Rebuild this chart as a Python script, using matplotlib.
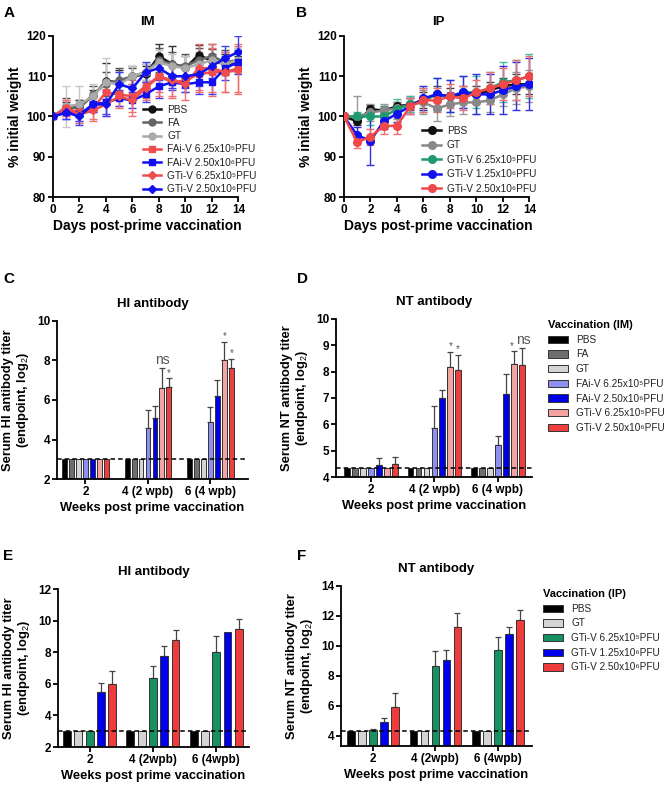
import matplotlib
matplotlib.use("Agg")
import matplotlib.pyplot as plt
from matplotlib.patches import Patch
from matplotlib.lines import Line2D
import numpy as np

plt.rcParams['font.family'] = ['Liberation Sans', 'DejaVu Sans']
plt.rcParams['mathtext.fontset'] = 'custom'
plt.rcParams['mathtext.rm'] = 'Liberation Sans'
plt.rcParams['mathtext.it'] = 'Liberation Sans:italic'
plt.rcParams['mathtext.bf'] = 'Liberation Sans:bold'

# ---------------- data: weight curves ----------------
days = list(range(15))

im_labels = ["PBS", "FA", "GT", "FAi-V 6.25x10\u2075PFU", "FAi-V 2.50x10\u2076PFU",
             "GTi-V 6.25x10\u2075PFU", "GTi-V 2.50x10\u2076PFU"]
im_pbs = [100, 102, 102.5, 105, 108.8, 108.5, 110, 110.5, 115, 113, 112, 115.3, 113.8, 113, 113]
im_fa = [100, 102.5, 102, 105.5, 108, 109, 110, 111, 114, 113, 112.5, 114, 115, 113.5, 114]
im_gt = [100, 102.5, 103, 105, 108.5, 108, 110, 111, 113.5, 112.5, 112, 113, 114, 113, 114]
im_fai625 = [100, 102, 101, 102, 106, 105.5, 105, 107.5, 110, 108.5, 109, 110.5, 111, 111, 112]
im_fai250 = [100, 101, 100.5, 103, 103.5, 104.5, 104, 105.5, 107.5, 108.5, 108, 108.5, 108.5, 112, 113.5]
im_gti625 = [100, 102, 100.5, 101.5, 103, 105, 104, 107, 110, 109, 108, 112, 112, 111, 111.5]
im_gti250 = [100, 101, 100, 103, 103, 108, 107, 111, 112, 110, 110, 110.5, 112.5, 114.5, 116]
im_err_pbs = [0, 1.5, 1.5, 1.5, 4.5, 3, 2.5, 2, 3, 4.5, 3, 2.5, 3, 2.5, 2]
im_err_fa = [0, 2, 2, 2, 3, 3, 2, 2, 3, 3, 3, 3, 3, 3, 3]
im_err_gt = [0, 5, 4.5, 3, 6, 3, 2.5, 2, 3, 3, 3, 3, 3, 3, 3]
im_err_fai625 = [0, 2, 2, 3, 3, 3, 4, 3, 4, 4, 3, 4, 6, 5, 6]
im_err_fai250 = [0, 1.5, 1.5, 2, 3, 2, 2, 2, 3, 2, 2, 3, 3, 3, 3]
im_err_gti625 = [0, 2, 2, 2, 3, 3, 4, 3, 5, 4, 4, 6, 6, 5, 6]
im_err_gti250 = [0, 1.5, 2, 2, 3, 3, 3, 2.5, 3, 3, 3, 3, 3, 3, 4]

ip_labels = ["PBS", "GT", "GTi-V 6.25x10\u2075PFU", "GTi-V 1.25x10\u2076PFU", "GTi-V 2.50x10\u2076PFU"]
ip_pbs = [100, 98.8, 101.8, 101.5, 102.5, 103, 104, 105.5, 105, 105.5, 105.5, 106.5, 107.5, 108, 108]
ip_gt = [100, 100, 101, 101.5, 102, 103, 103.5, 102, 103, 103.5, 103.5, 104, 105.5, 107, 107.5]
ip_gti625 = [100, 100, 100, 100, 101.8, 103, 104, 105.5, 105, 106, 106, 107, 108.5, 109, 110]
ip_gti125 = [100, 95.3, 94, 98.8, 100.7, 102.5, 104.5, 105.5, 105, 106, 105.5, 105.5, 106.5, 107.5, 108]
ip_gti250 = [100, 93.6, 95, 97.6, 97.7, 102.5, 104, 104, 105, 104.5, 106, 107, 108, 109, 110]
ip_err_pbs = [0, 1, 1, 1, 1, 1.5, 2, 2, 2, 2, 2, 2, 2, 2.5, 2.5]
ip_err_gt = [0, 5, 2, 1.5, 1.5, 2, 3, 3, 3, 3, 3, 3, 3, 4, 4]
ip_err_gti625 = [0, 1, 2, 2.5, 2.5, 2, 3, 4, 4, 4, 4, 4, 5, 5, 5.5]
ip_err_gti125 = [0, 2, 6, 2, 2, 2, 3, 4, 4, 4, 5, 5, 6, 6, 6.5]
ip_err_gti250 = [0, 1.5, 2, 2, 2, 2, 3, 3, 3, 3, 3, 4, 4, 5, 5]

# ---------------- data: antibody bars ----------------
im_groups = ["2", "4 (2 wpb)", "6 (4 wpb)"]
ip_groups = ["2", "4 (2wpb)", "6 (4wpb)"]

hi_im = [[3, 3, 3], [3, 3, 3], [3, 3, 3], [3.0, 4.6, 4.9], [3.0, 5.1, 6.2], [3.0, 6.6, 8.0], [3.0, 6.65, 7.6]]
hi_im_err = [[0, 0, 0], [0, 0, 0], [0, 0, 0], [0, 0.9, 0.75], [0, 0.6, 0.8], [0, 1.0, 0.95], [0, 0.45, 0.5]]
nt_im = [[4.33, 4.33, 4.33], [4.33, 4.33, 4.33], [4.33, 4.33, 4.33], [4.33, 5.86, 5.23],
         [4.47, 7.0, 7.16], [4.33, 8.18, 8.29], [4.5, 8.08, 8.25]]
nt_im_err = [[0, 0, 0], [0, 0, 0], [0, 0, 0], [0, 0.85, 0.32], [0.27, 0.3, 0.76], [0, 0.57, 0.48], [0.27, 0.55, 0.65]]

ip_bar_labels = ["PBS", "GT", "GTi-V 6.25x10\u2075PFU", "GTi-V 1.25x10\u2076PFU", "GTi-V 2.50x10\u2076PFU"]
hi_ip = [[3, 3, 3], [3, 3, 3], [3.0, 6.37, 8.0], [5.5, 7.76, 9.29], [6.0, 8.79, 9.5]]
hi_ip_err = [[0, 0, 0], [0, 0, 0], [0, 0.75, 1.05], [0.55, 0.66, 0], [0.78, 0.62, 0.6]]
nt_ip = [[4.33, 4.33, 4.33], [4.33, 4.33, 4.33], [4.35, 8.62, 9.73], [4.9, 9.04, 10.8], [5.93, 11.29, 11.73]]
nt_ip_err = [[0, 0, 0], [0, 0, 0], [0.07, 1.0, 0.85], [0.28, 0.69, 0.44], [0.91, 0.91, 0.69]]

# ---------------- figure ----------------
W, H = 666, 785
fig = plt.figure(figsize=(W / 100, H / 100), dpi=100)

def add_ax(l, t, r, b):
    return fig.add_axes([l / W, 1 - b / H, (r - l) / W, (b - t) / H])

def style(ax):
    for s in ['top', 'right']:
        ax.spines[s].set_visible(False)
    for s in ['left', 'bottom']:
        ax.spines[s].set_linewidth(1.3)
    ax.tick_params(width=1.3, length=3.5, labelsize=8.5, pad=1.5)
    for lab in ax.get_xticklabels() + ax.get_yticklabels():
        lab.set_fontweight('bold')

lab_kw = dict(fontsize=10, fontweight='bold')
barlab_kw = dict(fontsize=9.3, fontweight='bold')
title_kw = dict(fontsize=9.5, fontweight='bold')
leg_kw = dict(frameon=False, fontsize=7.3, handlelength=1.8, handletextpad=0.6, labelspacing=0.32,
              borderpad=0, labelcolor='#222222')

# Panel A
axA = add_ax(53, 36, 241, 197)
im_series = [im_pbs, im_fa, im_gt, im_fai625, im_fai250, im_gti625, im_gti250]
im_errs = [im_err_pbs, im_err_fa, im_err_gt, im_err_fai625, im_err_fai250, im_err_gti625, im_err_gti250]
im_cols = ['#111111', '#666666', '#aaaaaa', '#f04c4c', '#1010f0', '#f04c4c', '#1010f0']
im_ecols = ['#333333', '#555555', '#c8c8c8', '#f07070', '#4040f0', '#f07070', '#4040f0']
im_mk = ['o', 'o', 'o', 's', 's', 'D', 'D']
handlesA = []
for y, e, c, ec, m, lab in zip(im_series, im_errs, im_cols, im_ecols, im_mk, im_labels):
    axA.errorbar(days, y, yerr=e, fmt='none', ecolor=ec, elinewidth=1.0, capsize=3, capthick=1.0, zorder=2)
    axA.plot(days, y, color=c, marker=m, ms=5 if m != 'D' else 4.5, lw=1.8, zorder=3)
    handlesA.append(Line2D([], [], color=c, marker=m, ms=5 if m != 'D' else 4.5, lw=1.8))
axA.set_xlim(0, 14.2)
axA.set_ylim(80, 120)
axA.set_xticks(range(0, 15, 2))
axA.set_yticks([80, 90, 100, 110, 120])
axA.set_ylabel('% initial weight', labelpad=3, **lab_kw)
axA.set_xlabel('Days post-prime vaccination', labelpad=2, **lab_kw)
axA.set_title('IM', pad=8, **title_kw)
style(axA)
axA.spines['bottom'].set_bounds(0, 14)
axA.legend(handlesA, im_labels, loc='upper left', bbox_to_anchor=(0.45, 0.605), **leg_kw)

# Panel B
axB = add_ax(344, 36, 532, 197)
ip_series = [ip_pbs, ip_gt, ip_gti625, ip_gti125, ip_gti250]
ip_errs = [ip_err_pbs, ip_err_gt, ip_err_gti625, ip_err_gti125, ip_err_gti250]
ip_cols = ['#111111', '#888888', '#1e9a6e', '#1010f0', '#f04848']
ip_ecols = ['#444444', '#999999', '#40c0a0', '#3030e0', '#f07070']
handlesB = []
for y, e, c, ec, lab in zip(ip_series, ip_errs, ip_cols, ip_ecols, ip_labels):
    axB.errorbar(days, y, yerr=e, fmt='none', ecolor=ec, elinewidth=1.0, capsize=3, capthick=1.0, zorder=2)
    axB.plot(days, y, color=c, marker='o', ms=5.5, lw=1.8, zorder=3)
    handlesB.append(Line2D([], [], color=c, marker='o', ms=5.5, lw=1.8))
axB.set_xlim(0, 14.2)
axB.set_ylim(80, 120)
axB.set_xticks(range(0, 15, 2))
axB.set_yticks([80, 90, 100, 110, 120])
axB.set_ylabel('% initial weight', labelpad=3, **lab_kw)
axB.set_xlabel('Days post-prime vaccination', labelpad=2, **lab_kw)
axB.set_title('IP', pad=8, **title_kw)
style(axB)
axB.spines['bottom'].set_bounds(0, 14)
legB_kw = dict(leg_kw)
legB_kw['labelspacing'] = 0.45
axB.legend(handlesB, ip_labels, loc='upper left', bbox_to_anchor=(0.39, 0.475), **legB_kw)

# bar helper
def bars(ax, vals, errs, cols, spacing, width, groups, xlim, ylim, yticks, dash, ylabel, title):
    n = len(vals)
    centers = np.arange(3) * spacing
    for i, (v, e, c) in enumerate(zip(vals, errs, cols)):
        x = centers + (i - (n - 1) / 2)
        ax.bar(x, v, width=width, color=c, edgecolor='#333333', linewidth=0.7, zorder=2)
        e = np.array(e)
        mask = e > 0
        if mask.any():
            ax.errorbar(x[mask], np.array(v)[mask], yerr=[np.zeros(mask.sum()), e[mask]], fmt='none',
                        ecolor='#444444', elinewidth=0.9, capsize=2, capthick=0.9, zorder=1)
    ax.axhline(dash, color='black', ls=(0, (3, 2)), lw=1.1, zorder=3)
    ax.set_xlim(*xlim)
    ax.set_ylim(*ylim)
    ax.set_yticks(yticks)
    ax.set_xticks(centers)
    ax.set_xticklabels(groups)
    ax.set_ylabel(ylabel, linespacing=1.1, labelpad=4, **barlab_kw)
    ax.set_xlabel('Weeks post prime vaccination', labelpad=3, **barlab_kw)
    ax.set_title(title, pad=10, **title_kw)
    style(ax)
    return centers

im_bar_cols = ['#000000', '#6e6e6e', '#d4d4d4', '#8f8ff2', '#0000e6', '#f4a3a3', '#ee3e3e']
ip_bar_cols = ['#000000', '#d4d4d4', '#16915f', '#0000ee', '#ef3b3b']

# Panel C
axC = add_ax(57, 321, 248, 479)
cC = bars(axC, hi_im, hi_im_err, im_bar_cols, 9, 0.7, im_groups, (-4.1, 23.4), (2, 10), [2, 4, 6, 8, 10], 3.0,
          'Serum HI antibody titer\n(endpoint, log$_2$)', 'HI antibody')
ann = dict(ha='center', va='bottom', color='#555555')
axC.text(cC[1] + 2, 7.65, 'ns', fontsize=10, **ann)
axC.text(cC[1] + 3, 7.12, '*', fontsize=7, **ann)
axC.text(cC[2] + 2, 8.97, '*', fontsize=7, **ann)
axC.text(cC[2] + 3, 8.12, '*', fontsize=7, **ann)

# Panel D
axD = add_ax(336, 319, 532, 477)
cD = bars(axD, nt_im, nt_im_err, im_bar_cols, 8, 0.72, im_groups, (-4.4, 20.3), (4, 10), [4, 5, 6, 7, 8, 9, 10], 4.33,
          'Serum NT antibody titer\n(endpoint, log$_2$)', 'NT antibody')
axD.text(cD[1] + 2, 8.77, '*', fontsize=7, **ann)
axD.text(cD[1] + 3, 8.65, '*', fontsize=7, **ann)
axD.text(cD[2] + 1.8, 8.78, '*', fontsize=7, **ann)
axD.text(cD[2] + 3.2, 8.92, 'ns', fontsize=10, **ann)

barleg_kw = dict(frameon=False, fontsize=7.2, title_fontproperties={'weight': 'bold', 'size': 8},
                 alignment='left', handlelength=2.0, handleheight=0.75, handletextpad=0.8,
                 labelspacing=0.47, borderpad=0, labelcolor='#222222')
fig.legend([Patch(facecolor=c, edgecolor='#333333', linewidth=0.7) for c in im_bar_cols],
           im_labels, loc='upper left', bbox_to_anchor=(543 / W, 1 - 315 / H),
           title='Vaccination (IM)', **barleg_kw)

# Panel E
axE = add_ax(58, 589, 249, 747)
bars(axE, hi_ip, hi_ip_err, ip_bar_cols, 5.6, 0.7, ip_groups, (-2.8, 14.1), (2, 12), [2, 4, 6, 8, 10, 12], 3.0,
     'Serum HI antibody titer\n(endpoint, log$_2$)', 'HI antibody')

# Panel F
axF = add_ax(341, 586, 532, 746)
bars(axF, nt_ip, nt_ip_err, ip_bar_cols, 5.7, 0.7, ip_groups, (-2.9, 14.5), (3.3, 14), [4, 6, 8, 10, 12, 14], 4.33,
     'Serum NT antibody titer\n(endpoint, log$_2$)', 'NT antibody')

fig.legend([Patch(facecolor=c, edgecolor='#333333', linewidth=0.7) for c in ip_bar_cols],
           ip_bar_labels, loc='upper left', bbox_to_anchor=(538 / W, 1 - 584 / H),
           title='Vaccination (IP)', **barleg_kw)

# panel letters
for t, x, y in [('A', 4, 6), ('B', 296, 6), ('C', 3, 272), ('D', 297, 272), ('E', 3, 549), ('F', 297, 549)]:
    fig.text(x / W, 1 - y / H, t, fontsize=11, fontweight='bold', va='top', ha='left')

fig.savefig('out.png', dpi=100)
